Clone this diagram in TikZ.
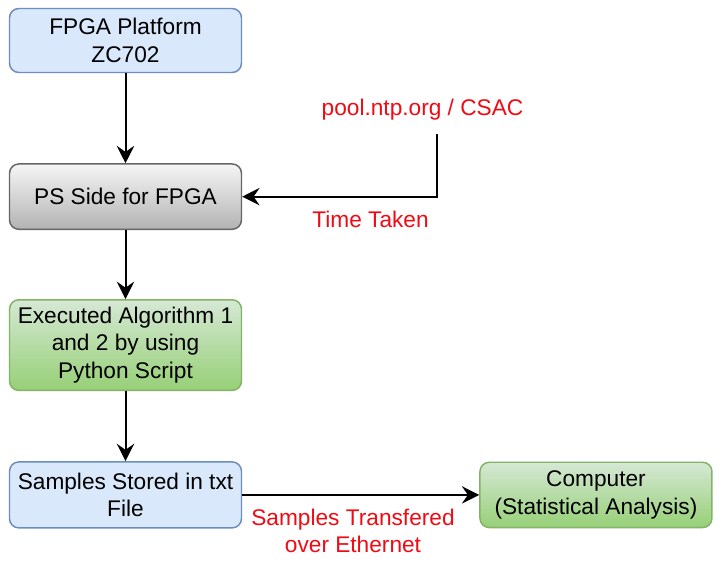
\documentclass[tikz,border=0pt]{standalone}
\usepackage{fontspec}
\setmainfont{Liberation Sans}
\usetikzlibrary{arrows.meta,positioning}
\definecolor{pblue}{HTML}{DAE8FC}
\definecolor{pblueline}{HTML}{6C8EBF}
\definecolor{pgreytop}{HTML}{F5F5F5}
\definecolor{pgreybot}{HTML}{B3B3B3}
\definecolor{pgreyline}{HTML}{666666}
\definecolor{pgreentop}{HTML}{D5E8D4}
\definecolor{pgreenbot}{HTML}{97D077}
\definecolor{pgreenline}{HTML}{82B366}
\definecolor{pred}{RGB}{240,10,20}

\begin{document}
\begin{tikzpicture}[x=0.75pt,y=-0.75pt,
  txt/.style={font=\fontsize{17}{20.5}\selectfont,align=center,inner sep=0pt},
  box/.style={txt,draw=pblueline,fill=pblue,rounded corners=7pt,line width=1.1pt,minimum width=174pt,minimum height=48pt},
  greybox/.style={box,draw=pgreyline,top color=pgreytop,bottom color=pgreybot},
  greenbox/.style={box,draw=pgreenline,top color=pgreentop,bottom color=pgreenbot},
  note/.style={txt,text=pred},
  arr/.style={-{Stealth[length=13pt,width=13pt,inset=4.5pt]},line width=1.5pt,black}]
\useasboundingbox (0,0) rectangle (718,561);
\node[box] (fpga) at (125.5,40.5) {FPGA Platform\\ZC702};
\node[greybox,below=67.5pt of fpga,minimum height=49pt] (ps) {PS Side for FPGA};
\node[greenbox,below=51.75pt of ps,minimum height=68pt] (algo) {Executed Algorithm 1\\and 2 by using\\Python Script};
\node[box,below=52.5pt of algo,minimum height=49.5pt] (store) {Samples Stored in txt\\File};
\node[greenbox,right=177.75pt of store,minimum height=49pt] (pc) {Computer\\(Statistical Analysis)};
% time source
\node[note] (ntp) at (422.5,110) {pool.ntp.org / CSAC};
\coordinate (tap) at (437,134);
\node[note] (taken) at (370.5,219) {Time Taken};
\node[note] (sent) at (353,531) {Samples Transfered\\over Ethernet};
\draw[arr] (fpga) -- (ps);
\draw[arr] (ps) -- (algo);
\draw[arr] (algo) -- (store);
\draw[arr] (tap) |- (ps);
\draw[arr] (store) -- (pc);
\end{tikzpicture}
\end{document}
